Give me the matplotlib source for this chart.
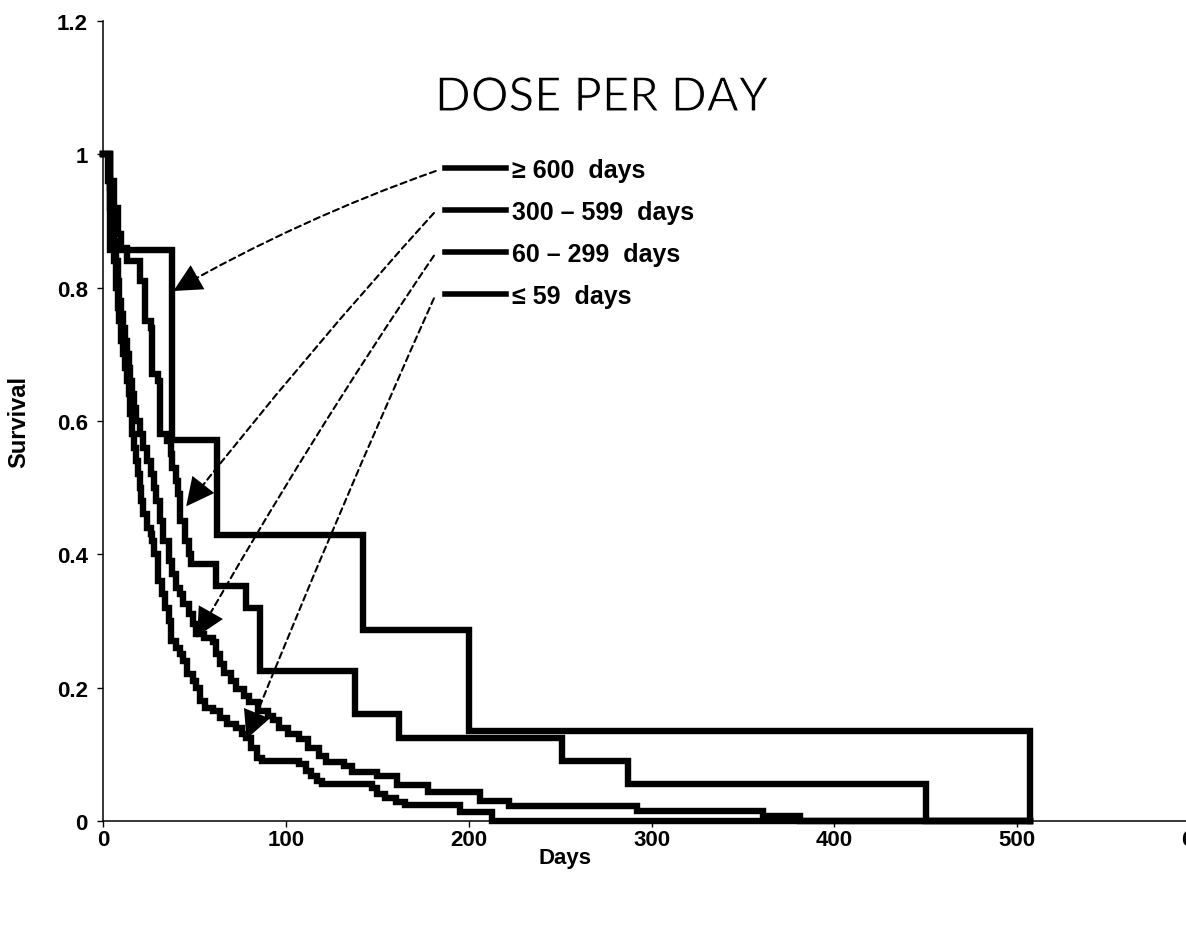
import matplotlib
matplotlib.use("Agg")
import matplotlib.pyplot as plt
import matplotlib.patheffects as pe
from matplotlib.font_manager import FontProperties

# ---------------- data ----------------
legend_labels = ["\u2265 600  days", "300 \u2013 599  days", "60 \u2013 299  days", "\u2264 59  days"]

# >= 600 days
A_days = [0, 4, 37.5, 62.5, 142, 200, 507]
A_surv = [1.0, 0.857, 0.571, 0.429, 0.286, 0.135, 0.0]

# 300 - 599 days
B_days = [0, 4, 6, 8, 10, 13, 20, 23, 26, 27, 30, 31, 35, 37, 38, 40, 41, 42, 45, 47,
          48, 62, 78, 86, 138, 162, 251, 287, 450, 507]
B_surv = [1.0, 0.96, 0.92, 0.88, 0.86, 0.84, 0.81, 0.75, 0.74, 0.67, 0.66, 0.58, 0.57, 0.55,
          0.53, 0.51, 0.49, 0.45, 0.42, 0.40, 0.385, 0.353, 0.32, 0.225, 0.16, 0.125, 0.09,
          0.055, 0.0, 0.0]

# 60 - 299 days
C_days = [0, 4, 5, 6, 7, 8, 9, 10, 11, 12, 13, 14, 15, 16, 17, 18, 20, 22, 24, 26, 28, 29,
          31, 33, 36, 38, 40, 42, 44, 47, 49, 51, 55, 60, 62, 64, 66, 70, 73, 77, 80, 85, 90,
          93, 96, 101, 107, 112, 118, 122, 132, 136, 150, 161, 178, 206, 222, 292, 361, 381, 507]
C_surv = [1.0, 0.95, 0.91, 0.87, 0.84, 0.81, 0.78, 0.76, 0.74, 0.72, 0.70, 0.68, 0.66, 0.64,
          0.62, 0.60, 0.58, 0.56, 0.54, 0.52, 0.50, 0.48, 0.45, 0.42, 0.39, 0.37, 0.35, 0.34,
          0.325, 0.31, 0.295, 0.28, 0.275, 0.268, 0.25, 0.235, 0.222, 0.21, 0.198, 0.188,
          0.178, 0.165, 0.158, 0.152, 0.14, 0.13, 0.123, 0.11, 0.098, 0.088, 0.083, 0.074,
          0.068, 0.054, 0.043, 0.03, 0.022, 0.015, 0.007, 0.0, 0.0]

# <= 59 days
D_days = [0, 3, 4, 5, 6, 7, 8, 9, 10, 11, 12, 13, 14, 15, 16, 17, 18, 19, 20, 21, 22, 24,
          26, 27, 28, 30, 32, 34, 36, 37, 40, 42, 44, 46, 49, 51, 53, 56, 60, 64, 68, 73, 76,
          78, 81, 84, 87, 107, 111, 114, 117, 120, 147, 150, 154, 160, 165, 195, 213, 507]
D_surv = [1.0, 0.96, 0.92, 0.88, 0.84, 0.80, 0.77, 0.75, 0.72, 0.70, 0.68, 0.66, 0.64, 0.61,
          0.58, 0.56, 0.54, 0.52, 0.50, 0.48, 0.46, 0.44, 0.43, 0.42, 0.40, 0.36, 0.34, 0.32,
          0.30, 0.27, 0.26, 0.25, 0.24, 0.22, 0.21, 0.20, 0.18, 0.17, 0.165, 0.155, 0.145,
          0.14, 0.13, 0.125, 0.11, 0.095, 0.09, 0.085, 0.075, 0.068, 0.06, 0.055, 0.05, 0.04,
          0.035, 0.028, 0.024, 0.014, 0.0, 0.0]

# dashed pointer arrows: start (near legend) and tip (on curve), in data units
arrow_start = [(182, 0.975), (181, 0.912), (181, 0.848), (181, 0.784)]
arrow_tip = [(38.5, 0.795), (45.5, 0.472), (51.5, 0.277), (78.5, 0.123)]
arrow_rad = [0.045, 0.018, 0.02, 0.01]

x_ticks = [0, 100, 200, 300, 400, 500, 600]
y_ticks = [0, 0.2, 0.4, 0.6, 0.8, 1.0, 1.2]
y_tick_labels = ["0", "0.2", "0.4", "0.6", "0.8", "1", "1.2"]

# ---------------- figure ----------------
fig = plt.figure(figsize=(11.86, 9.29), dpi=100)
ax = fig.add_axes([103 / 1186, 1 - 822 / 929, 1097 / 1186, 800 / 929])

bold = dict(family=["Liberation Sans", "DejaVu Sans"], weight="bold")

lw = 4.6
lines = []
for d, s in [(A_days, A_surv), (B_days, B_surv), (C_days, C_surv), (D_days, D_surv)]:
    ln, = ax.plot(d, s, drawstyle="steps-post", color="black", lw=lw,
                  solid_joinstyle="miter", clip_on=False)
    lines.append(ln)

ax.set_xlim(0, 600)
ax.set_ylim(0, 1.2)
ax.set_xticks(x_ticks)
ax.set_xticklabels([str(t) for t in x_ticks], **bold, fontsize=16)
ax.set_yticks(y_ticks)
ax.set_yticklabels(y_tick_labels, **bold, fontsize=16)

for side in ["top", "right"]:
    ax.spines[side].set_visible(False)
for side in ["left", "bottom"]:
    ax.spines[side].set_linewidth(1.1)
ax.tick_params(axis="both", direction="out", length=4, width=1.0, color="black")
ax.tick_params(axis="y", pad=7)
ax.tick_params(axis="x", pad=2)

ax.set_xlabel("Days", **bold, fontsize=16)
ax.xaxis.set_label_coords((565 - 103) / 1097, (822 - 848) / 800)
ax.set_ylabel("Survival", **bold, fontsize=17)
ax.yaxis.set_label_coords((19 - 103) / 1097, 0.5)
ax.yaxis.label.set_va("center")

fig.text(602 / 1186, 1 - 99 / 929, "DOSE PER DAY", family=["Lato", "DejaVu Sans"],
         weight="normal", fontsize=34, ha="center", va="center",
         path_effects=[pe.Stroke(linewidth=0.8, foreground="white")])

leg = ax.legend(lines, legend_labels, loc="upper left",
                bbox_to_anchor=(445 / 1186, 1 - 159 / 929), bbox_transform=fig.transFigure,
                frameon=False, prop=FontProperties(family=["Liberation Sans", "DejaVu Sans"],
                                                   weight="bold", size=18),
                handlelength=2.45, handletextpad=0.22, labelspacing=0.72,
                borderpad=0, borderaxespad=0)
for h in leg.get_lines():
    h.set_linewidth(4.0)

for (sx, sy), (tx, ty), r in zip(arrow_start, arrow_tip, arrow_rad):
    conn = f"arc3,rad={r}"
    # dashed shaft
    ax.annotate("", xy=(tx, ty), xytext=(sx, sy),
                arrowprops=dict(arrowstyle="-", color="black", lw=1.5,
                                linestyle=(0, (3, 2)), shrinkA=0, shrinkB=0,
                                connectionstyle=conn))
    # solid filled head
    ax.annotate("", xy=(tx, ty), xytext=(sx, sy),
                arrowprops=dict(arrowstyle="-|>,head_length=0.8,head_width=0.4",
                                color="black", lw=0, shrinkA=0, shrinkB=0,
                                mutation_scale=25, connectionstyle=conn))

fig.savefig("out.png", dpi=100)
